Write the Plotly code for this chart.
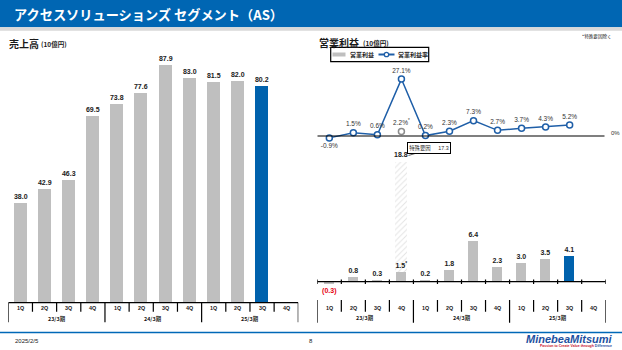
import plotly.graph_objects as go

W, H = 622, 350

# ---- data (10億円 / %) ----
quarters = ["1Q", "2Q", "3Q", "4Q"] * 3
fiscal_years = ["23/3期", "24/3期", "25/3期"]
sales = [38.0, 42.9, 46.3, 69.5, 73.8, 77.6, 87.9, 83.0, 81.5, 82.0, 80.2, None]
op_income = [-0.3, 0.8, 0.3, 1.5, 0.2, 1.8, 6.4, 2.3, 3.0, 3.5, 4.1, None]
special_items = [None, None, None, 17.3, None, None, None, None, None, None, None, None]
op_margin = [-0.9, 1.5, 0.6, 27.1, 0.2, 2.3, 7.3, 2.7, 3.7, 4.3, 5.2, None]
margin_ex_special = [None, None, None, 2.2, None, None, None, None, None, None, None, None]
current_idx = 10

BLUE = "#0062ad"
GRAY = "#bfbfbf"
LINE_BLUE = "#1f5fa8"
TXT = "#1a1a1a"
JP = "Noto Sans CJK JP"
LAT = "Liberation Sans"

xs = list(range(len(quarters)))


def px(x):
    return x / W


def py(y):
    return 1 - y / H


def fmt_income(v, sp):
    if v is None:
        return ""
    s = f"({abs(v):.1f})" if v < 0 else f"{v:.1f}"
    return s + ("<sup>*</sup>" if sp is not None else "")


fig = go.Figure()

# 売上高 bars
fig.add_trace(go.Bar(
    x=xs, y=sales, xaxis="x", yaxis="y", width=0.54,
    marker=dict(color=[BLUE if i == current_idx else GRAY for i in xs], line=dict(width=0)),
    text=[f"{v:.1f}" if v is not None else "" for v in sales],
    textposition="outside", cliponaxis=False, constraintext="none",
    textfont=dict(family=LAT, size=7, color=TXT, weight="bold"),
    showlegend=False, hoverinfo="skip",
))

# 特殊要因 (hatched, stacked on top of the reported value)
fig.add_trace(go.Bar(
    x=xs, y=special_items, xaxis="x3", yaxis="y3", width=0.47,
    base=[op_income[i] if special_items[i] is not None else 0 for i in xs],
    marker=dict(color="white", line=dict(width=0),
                pattern=dict(shape="/", fgcolor="#c9c9c9", bgcolor="white", size=4, solidity=0.25)),
    showlegend=False, hoverinfo="skip",
))

# 営業利益 bars
fig.add_trace(go.Bar(
    x=xs, y=op_income, xaxis="x3", yaxis="y3", width=0.42,
    marker=dict(color=[BLUE if i == current_idx else GRAY for i in xs], line=dict(width=0)),
    text=[fmt_income(v, s) for v, s in zip(op_income, special_items)],
    textposition="outside", cliponaxis=False, constraintext="none",
    textfont=dict(family=LAT, size=7, weight="bold",
                  color=["#e60012" if (v is not None and v < 0) else TXT for v in op_income]),
    showlegend=False, hoverinfo="skip",
))

# 営業利益率 line
fig.add_trace(go.Scatter(
    x=xs, y=op_margin, xaxis="x2", yaxis="y2", mode="lines+markers+text",
    line=dict(color=LINE_BLUE, width=1.5),
    marker=dict(symbol="circle", size=6, color="white", line=dict(color=LINE_BLUE, width=1.5)),
    text=[f"{v:.1f}%" if v is not None else "" for v in op_margin],
    textposition=["bottom center" if (v is not None and v < 0) else "top center" for v in op_margin],
    textfont=dict(family=LAT, size=6.5, color="#333333"),
    cliponaxis=False, showlegend=False, hoverinfo="skip",
))

# 営業利益率 excluding special items
fig.add_trace(go.Scatter(
    x=xs, y=margin_ex_special, xaxis="x2", yaxis="y2", mode="markers+text",
    marker=dict(symbol="circle", size=6, color="white", line=dict(color="#8c8c8c", width=1.5)),
    text=[f"{v:.1f}%<sup>*</sup>" if v is not None else "" for v in margin_ex_special],
    textposition="top center",
    textfont=dict(family=LAT, size=6.5, color="#333333"),
    cliponaxis=False, showlegend=False, hoverinfo="skip",
))

hidden = dict(visible=False, showgrid=False, zeroline=False, fixedrange=True)
fig.update_layout(
    width=W, height=H, autosize=False,
    margin=dict(l=0, r=0, t=0, b=0),
    paper_bgcolor="white", plot_bgcolor="rgba(0,0,0,0)",
    barmode="overlay", bargap=0,
    xaxis=dict(hidden, domain=[px(8.3), px(298.3)], range=[-0.5, 11.5], anchor="y"),
    yaxis=dict(hidden, domain=[py(302.7), py(50)], range=[2, 93.2], anchor="x"),
    xaxis2=dict(hidden, domain=[px(317.3), px(605.7)], range=[-0.5, 11.5], anchor="y2"),
    yaxis2=dict(hidden, domain=[py(146), py(66)], range=[-4.76, 33.33], anchor="x2"),
    xaxis3=dict(hidden, domain=[px(317.3), px(605.7)], range=[-0.5, 11.5], anchor="y3"),
    yaxis3=dict(hidden, domain=[py(290), py(155)], range=[-1.305, 19.92], anchor="x3"),
)

shapes = []
ann = []


def pline(x0, y0, x1, y1, color="black", width=1, xref="paper", yref="paper"):
    shapes.append(dict(type="line", xref=xref, yref=yref, x0=x0, y0=y0, x1=x1, y1=y1,
                       line=dict(color=color, width=width), layer="above"))


def text(x, y, s, size, color=TXT, family=JP, xanchor="left", xref="paper", yref="paper", bold=False, **kw):
    ann.append(dict(x=x, y=y, xref=xref, yref=yref, text=s, showarrow=False,
                    xanchor=xanchor, yanchor="middle",
                    font=dict(family=family, size=size, color=color, weight="bold" if bold else "normal"),
                    **kw))


# header band
shapes.append(dict(type="rect", xref="paper", yref="paper", x0=0, x1=1, y0=py(27.3), y1=1,
                   fillcolor="#0066b3", line=dict(width=0), layer="below"))
shapes.append(dict(type="rect", xref="paper", yref="paper", x0=0, x1=1, y0=py(30.8), y1=py(27.3),
                   fillcolor="#d9d9d9", line=dict(width=0), layer="below"))
text(px(12), py(14.5), "アクセスソリューションズ セグメント（AS）", 13.2, color="white", bold=True)

# footer
pline(0, py(332.6), 1, py(332.6), color="#0068b7", width=1.5)
text(px(13), py(340.8), "2025/2/5", 6, family=LAT)
text(px(311), py(340.8), "8", 6, family=LAT, xanchor="center")
text(px(615), py(338.6), "<i>MinebeaMitsumi</i>", 11, color="#1d4fa0", family=LAT, xanchor="right", bold=True)
text(px(614), py(346.3),
     "<span style='color:#c8102e'>Passion to Create Value through </span>Difference",
     3.5, color="#1d4fa0", family=LAT, xanchor="right", bold=True)

# chart titles
text(px(7), py(43), "売上高", 10, bold=True)
text(px(38.5), py(43.5), "(10億円)", 6.5, bold=True)
text(px(317.5), py(42), "営業利益", 10, bold=True)
text(px(360.5), py(42.5), "(10億円)", 6.5, bold=True)
text(px(614), py(36), "*特殊要因除く", 4.6, xanchor="right")

# legend
shapes.append(dict(type="rect", xref="paper", yref="paper", x0=px(330.7), x1=px(428.7),
                   y0=py(61.7), y1=py(47.3), line=dict(color="black", width=1.2), fillcolor="rgba(0,0,0,0)"))
pline(px(332.5), py(54.5), px(345.5), py(54.5), color=GRAY, width=4)
text(px(347.5), py(54.5), "営業利益", 6, bold=True)
pline(px(378.5), py(54.5), px(394.5), py(54.5), color=LINE_BLUE, width=2)
shapes.append(dict(type="circle", xref="paper", yref="paper", x0=px(384.3), x1=px(388.7),
                   y0=py(56.7), y1=py(52.3), fillcolor="white", line=dict(color=LINE_BLUE, width=1.3)))
text(px(395.5), py(54.5), "営業利益率", 6, bold=True)

# 売上高 category axis
pline(-0.5, py(302.7), 11.5, py(302.7), xref="x", width=1.2)
for k in range(13):
    pline(k - 0.5, py(302.7), k - 0.5, py(322.2 if k % 4 == 0 else 311.7), xref="x", width=1.2)
for i, q in enumerate(quarters):
    text(i, py(307.6), q, 5.4, xref="x", xanchor="center", family=LAT, bold=True)
for j, fy in enumerate(fiscal_years):
    text(4 * j + 1.5, py(318.5), fy, 5.4, xref="x", xanchor="center", bold=True)

# 営業利益 baseline with boundary ticks
pline(-0.5, 0, 11.5, 0, xref="x3", yref="y3", width=1.2)
for k in range(13):
    pline(k - 0.5, py(279.5), k - 0.5, py(284), xref="x3", width=1.2)
# 営業利益 category row
for k in range(13):
    pline(k - 0.5, py(300), k - 0.5, py(322.7 if k % 4 == 0 else 311.7), xref="x3", width=1.2)
for i, q in enumerate(quarters):
    text(i, py(308), q, 5.4, xref="x3", xanchor="center", family=LAT, bold=True)
for j, fy in enumerate(fiscal_years):
    text(4 * j + 1.5, py(317.5), fy, 5.4, xref="x3", xanchor="center", bold=True)

# margin zero line
pline(-0.5, 0, 11.45, 0, xref="x2", yref="y2", width=1.2)
text(px(609), py(133.3), "0%", 6, family=LAT, color="#333333")

# total incl. special items, and the special-item callout
for i, sp in enumerate(special_items):
    if sp is None:
        continue
    total = op_income[i] + sp
    ann.append(dict(x=i, y=total, xref="x3", yref="y3", text=f"{total:.1f}", showarrow=False,
                    xanchor="center", yanchor="bottom", yshift=2,
                    font=dict(family=LAT, size=7, color=TXT, weight="bold")))
    ann.append(dict(x=px(407.4), y=py(147.8), xref="paper", yref="paper",
                    text=f"<span style='font-family:{JP}'>特殊要因</span>     {sp:.1f}",
                    showarrow=False, xanchor="left", yanchor="middle",
                    bordercolor="black", borderwidth=1, borderpad=1.2, bgcolor="white",
                    font=dict(family=LAT, size=5.4, color="#333333")))
    pline(px(408.5), py(155.5), px(419), py(152.3), color="#333333", width=0.8)

fig.update_layout(shapes=shapes, annotations=ann)
fig.write_html("out.html")
